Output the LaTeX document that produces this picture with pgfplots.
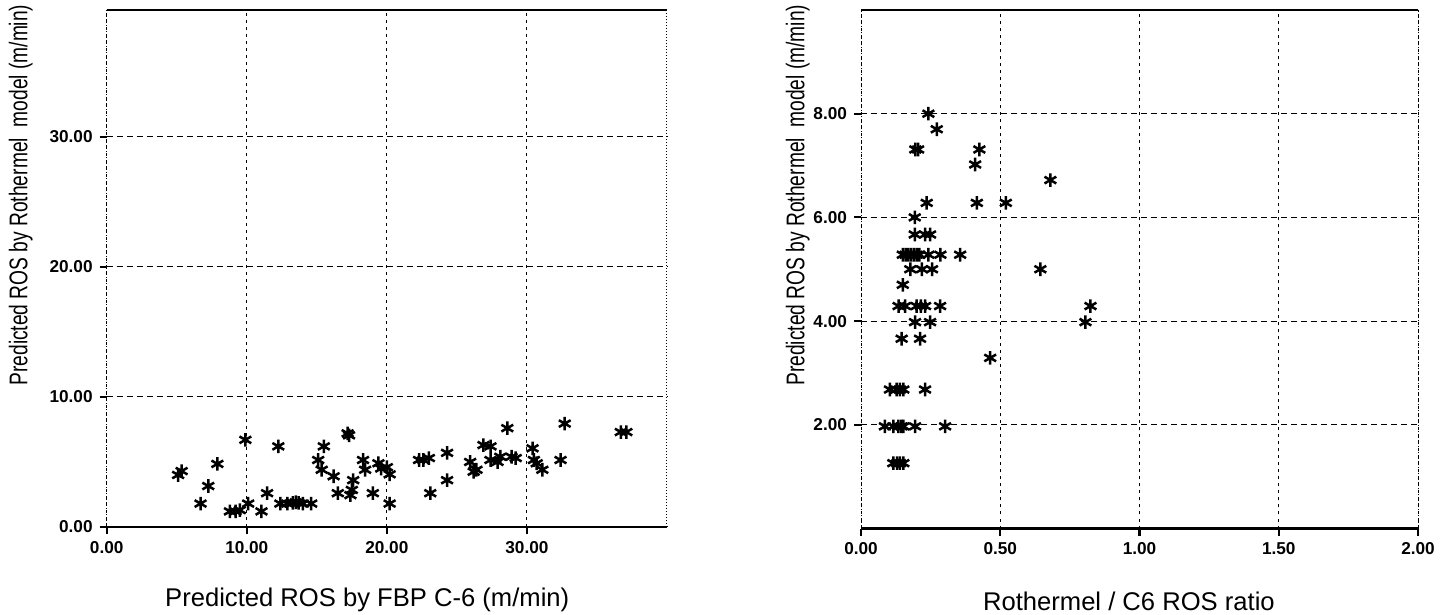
\documentclass[border=0pt]{standalone}
\usepackage{fontspec}
\setmainfont{Liberation Sans}
\usepackage{pgfplots}
\pgfplotsset{compat=1.18}
\usepackage{graphicx}

\pgfplotstableread{
x y
5.1 4.0
5.35 4.3
6.7 1.8
7.25 3.15
7.9 4.85
8.8 1.2
9.2 1.2
9.5 1.3
9.9 6.7
10.1 1.8
11.05 1.2
11.45 2.6
12.25 6.2
12.4 1.8
12.9 1.8
13.3 1.85
13.5 1.9
13.7 1.85
14.0 1.8
14.6 1.8
15.1 5.15
15.35 4.4
15.5 6.2
16.2 3.9
16.5 2.6
17.2 7.2
17.3 7.05
17.4 2.45
17.5 2.85
17.6 3.6
18.3 5.15
18.45 4.4
19.0 2.6
19.4 4.9
19.6 4.5
20.0 4.6
20.2 4.05
20.2 1.8
22.3 5.15
22.6 5.15
23.0 5.3
23.1 2.6
24.3 5.7
24.3 3.6
25.95 5.0
26.2 4.25
26.4 4.4
26.9 6.3
27.4 6.2
27.4 5.15
27.9 5.0
28.1 5.4
28.6 7.6
28.9 5.4
29.2 5.3
30.4 6.05
30.5 5.15
30.7 4.9
31.1 4.4
32.4 5.15
32.7 7.95
36.7 7.3
37.1 7.3
}\leftdata

\pgfplotstableread{
x y
0.242 8.0
0.272 7.7
0.195 7.31
0.205 7.31
0.425 7.31
0.41 7.02
0.68 6.72
0.236 6.28
0.416 6.28
0.52 6.28
0.193 6.0
0.193 5.67
0.23 5.67
0.248 5.67
0.15 5.28
0.16 5.28
0.17 5.28
0.18 5.28
0.19 5.28
0.20 5.28
0.21 5.28
0.242 5.28
0.285 5.28
0.356 5.28
0.177 5.0
0.219 5.0
0.255 5.0
0.644 5.0
0.15 4.7
0.135 4.29
0.158 4.29
0.20 4.29
0.215 4.29
0.23 4.29
0.284 4.29
0.824 4.29
0.194 3.98
0.248 3.98
0.806 3.98
0.146 3.66
0.212 3.66
0.464 3.29
0.104 2.68
0.128 2.68
0.14 2.68
0.152 2.68
0.23 2.68
0.086 1.97
0.116 1.97
0.134 1.97
0.145 1.97
0.152 1.97
0.194 1.97
0.302 1.97
0.116 1.26
0.13 1.26
0.14 1.26
0.152 1.26
}\rightdata

\pgfplotsset{
  myaxis/.style={
    scale only axis,
    separate axis lines,
    x axis line style={line width=1.1pt},
    y axis line style={line width=0.5pt, densely dotted},
    tick pos=left,
    tick align=outside,
    major tick length=3.5pt,
    every tick/.style={black, line width=1.1pt},
    xmajorgrids, ymajorgrids,
    x grid style={black, line width=0.5pt, dash pattern=on 1.5pt off 2pt},
    y grid style={black, line width=0.5pt, dash pattern=on 3pt off 2pt},
    tick label style={font=\fontsize{8.6}{10}\selectfont\bfseries},
    /pgf/number format/assume math mode=true,
    /pgf/number format/.cd, fixed, fixed zerofill, precision=2,
    /pgfplots/.cd,
    label style={font=\fontsize{12.8}{15}\selectfont},
  },
  mymarks/.style={only marks, mark=asterisk, mark size=3.4pt, mark options={line width=1.25pt, black}},
}

\begin{document}
\begin{tikzpicture}
\path[use as bounding box] (-53.35pt,-44pt) rectangle (672.15pt,263.5pt);
\begin{axis}[
  myaxis,
  at={(0pt,0pt)}, anchor=south west,
  width=280.15pt, height=258.5pt,
  xmin=0, xmax=40, ymin=0, ymax=39.75,
  xtick={0,10,20,30}, ytick={0,10,20,30},
  xlabel={Predicted ROS by FBP C-6 (m/min)},
  ylabel={\scalebox{0.75}[1]{Predicted ROS by Rothermel\ \ model (m/min)}},
  xlabel style={at={(axis description cs:0.465,0)}, anchor=base, yshift=-40pt},
  ylabel style={at={(axis description cs:0,0.642)}, anchor=south, inner sep=0pt, yshift=36.8pt},
]
\addplot[mymarks] table[x=x,y=y] {\leftdata};
\end{axis}
\begin{axis}[
  myaxis,
  at={(377.15pt,-0.75pt)}, anchor=south west,
  width=278.5pt, height=259.25pt,
  xmin=0, xmax=2, ymin=0, ymax=10,
  xtick={0,0.5,1,1.5,2}, ytick={2,4,6,8},
  xlabel={Rothermel / C6 ROS ratio},
  ylabel={\scalebox{0.75}[1]{Predicted ROS by Rothermel\ \ model (m/min)}},
  xlabel style={at={(axis description cs:0.481,0)}, anchor=base, yshift=-40.75pt},
  ylabel style={at={(axis description cs:0,0.643)}, anchor=south, inner sep=0pt, yshift=25.5pt},
]
\addplot[mymarks] table[x=x,y=y] {\rightdata};
\end{axis}
\end{tikzpicture}
\end{document}
